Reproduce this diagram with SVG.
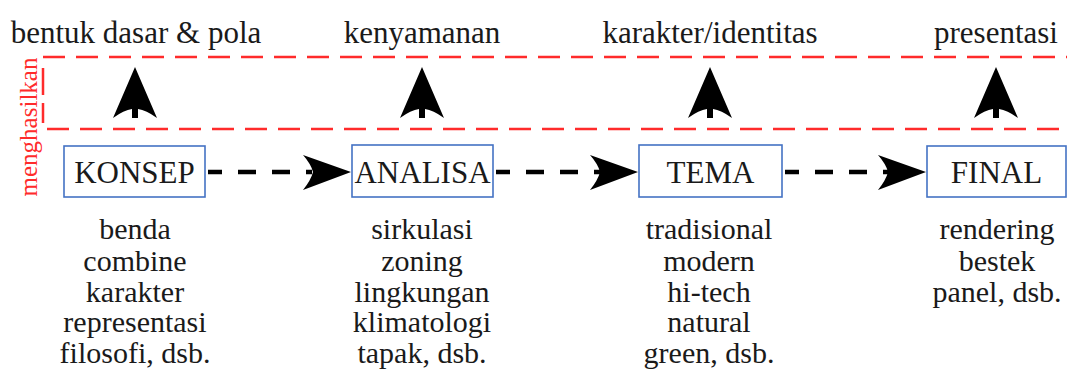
<svg xmlns="http://www.w3.org/2000/svg" width="1067" height="370" viewBox="0 0 1067 370" font-family="Liberation Serif">
<style>
.lbl{font-size:31px;text-anchor:middle;}
.itm{font-size:30px;text-anchor:middle;}
.box{fill:#fff;stroke:#4472c4;stroke-width:1.6;}
.red{stroke:#ff2b2b;stroke-width:2.5;fill:none;stroke-dasharray:22 11;}
.conn{stroke:#000;stroke-width:4.5;fill:none;stroke-dasharray:18 16;stroke-dashoffset:4;}
.head{fill:#000;}
</style>
<rect width="1067" height="370" fill="#fff"/>
<g id="frame">
<line class="red" x1="43" y1="57" x2="1067" y2="57"/>
<line class="red" x1="47" y1="129" x2="1067" y2="129"/>
<line x1="43" y1="68" x2="43" y2="95" stroke="#ff2b2b" stroke-width="2.5"/>
<line x1="43" y1="103" x2="43" y2="123" stroke="#ff2b2b" stroke-width="2.5"/>
<text transform="translate(37,127) rotate(-90)" font-size="25" text-anchor="middle" fill="#ff2b2b">menghasilkan</text>
</g>
<g id="top-labels" fill="#1a1a1a">
<text class="lbl" x="136" y="43">bentuk dasar &amp; pola</text>
<text class="lbl" x="422" y="43">kenyamanan</text>
<text class="lbl" x="710" y="43">karakter/identitas</text>
<text class="lbl" x="996" y="43">presentasi</text>
</g>
<g id="up-arrows">
<path class="head" d="M135,67 L157,118 Q146,110 138,109 L138,118 L132,118 L132,109 Q124,110 113,118 Z"/>
<path class="head" d="M422,67 L444,118 Q433,110 425,109 L425,118 L419,118 L419,109 Q411,110 400,118 Z"/>
<path class="head" d="M710,67 L732,118 Q721,110 713,109 L713,118 L707,118 L707,109 Q699,110 688,118 Z"/>
<path class="head" d="M996,67 L1018,118 Q1007,110 999,109 L999,118 L993,118 L993,109 Q985,110 974,118 Z"/>
</g>
<g id="connectors">
<line class="conn" x1="208" y1="172" x2="312" y2="172"/>
<path class="head" d="M351,172 L303,155 Q311,164 313,172 Q311,180 303,190 Z"/>
<line class="conn" x1="496" y1="172" x2="600" y2="172"/>
<path class="head" d="M638,172 L590,155 Q598,164 600,172 Q598,180 590,190 Z"/>
<line class="conn" x1="785" y1="172" x2="888" y2="172"/>
<path class="head" d="M926,172 L878,155 Q886,164 888,172 Q886,180 878,190 Z"/>
</g>
<g id="konsep" fill="#1a1a1a">
<rect class="box" x="64" y="146" width="141" height="51"/>
<text class="lbl" x="134.5" y="183">KONSEP</text>
<text class="itm" x="135" y="239">benda</text>
<text class="itm" x="135" y="271">combine</text>
<text class="itm" x="135" y="302">karakter</text>
<text class="itm" x="135" y="332">representasi</text>
<text class="itm" x="135" y="363">filosofi, dsb.</text>
</g>
<g id="analisa" fill="#1a1a1a">
<rect class="box" x="352" y="145" width="141" height="52"/>
<text class="lbl" x="422.5" y="183">ANALISA</text>
<text class="itm" x="422" y="239">sirkulasi</text>
<text class="itm" x="422" y="271">zoning</text>
<text class="itm" x="422" y="302">lingkungan</text>
<text class="itm" x="422" y="332">klimatologi</text>
<text class="itm" x="422" y="363">tapak, dsb.</text>
</g>
<g id="tema" fill="#1a1a1a">
<rect class="box" x="639" y="145" width="143" height="52"/>
<text class="lbl" x="710.5" y="183">TEMA</text>
<text class="itm" x="709" y="239">tradisional</text>
<text class="itm" x="709" y="271">modern</text>
<text class="itm" x="709" y="302">hi-tech</text>
<text class="itm" x="709" y="332">natural</text>
<text class="itm" x="709" y="363">green, dsb.</text>
</g>
<g id="final" fill="#1a1a1a">
<rect class="box" x="927" y="146" width="139" height="51"/>
<text class="lbl" x="996.5" y="183">FINAL</text>
<text class="itm" x="997" y="239">rendering</text>
<text class="itm" x="997" y="271">bestek</text>
<text class="itm" x="997" y="302">panel, dsb.</text>
</g>
</svg>
